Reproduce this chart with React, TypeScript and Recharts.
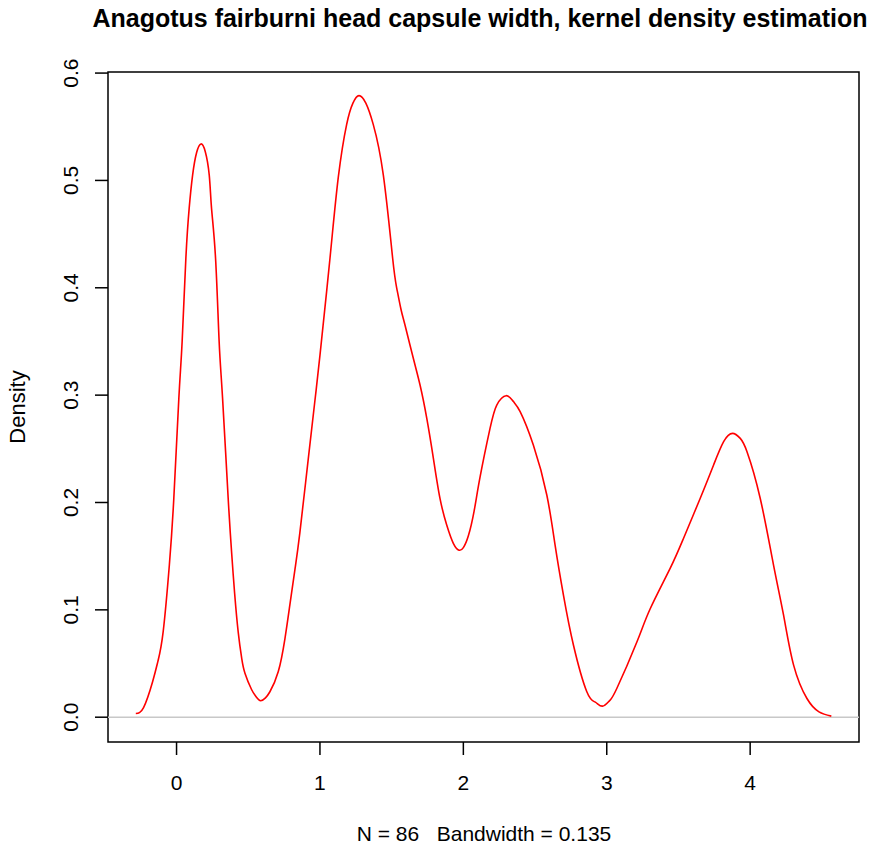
import React from "react";
import { LineChart, Line, XAxis, YAxis, ReferenceLine, ReferenceArea } from "recharts";

const titleText = "Anagotus fairburni head capsule width, kernel density estimation";
const yLabelText = "Density";
const xLabelText = "N = 86   Bandwidth = 0.135";

const xTicks = [0, 1, 2, 3, 4];
const yTicks = [0, 0.1, 0.2, 0.3, 0.4, 0.5, 0.6];
const xDomain = [-0.478, 4.759];
const yDomain = [-0.0231, 0.601];

const densityX = [
  -0.284, -0.23, -0.167, -0.13, -0.093, -0.05, -0.019, 0.016, 0.039, 0.065, 0.088, 0.112, 0.14, 0.17, 0.2,
  0.228, 0.244, 0.272, 0.297, 0.321, 0.36, 0.385, 0.405, 0.43, 0.455, 0.477, 0.523, 0.555, 0.586, 0.62,
  0.651, 0.709, 0.756, 0.79, 0.826, 0.86, 0.918, 0.965, 1.0, 1.07, 1.128, 1.186, 1.23, 1.272, 1.32,
  1.372, 1.442, 1.507, 1.535, 1.565, 1.593, 1.651, 1.698, 1.745, 1.791, 1.837, 1.884, 1.93, 1.97, 2.0,
  2.035, 2.075, 2.117, 2.186, 2.233, 2.298, 2.349, 2.396, 2.488, 2.582, 2.64, 2.698, 2.768, 2.861, 2.92,
  2.97, 3.02, 3.07, 3.21, 3.303, 3.442, 3.535, 3.652, 3.745, 3.815, 3.877, 3.931, 3.978, 4.07, 4.163,
  4.233, 4.303, 4.396, 4.48, 4.566,
];
const densityY = [
  0.0034, 0.009, 0.033, 0.052, 0.08, 0.142, 0.204, 0.297, 0.35, 0.4275, 0.474, 0.505, 0.526, 0.534, 0.527,
  0.505, 0.474, 0.4275, 0.35, 0.297, 0.204, 0.1515, 0.1155, 0.0793, 0.0543, 0.041, 0.0258, 0.019, 0.0153, 0.018,
  0.0237, 0.0423, 0.0733, 0.1044, 0.138, 0.172, 0.24, 0.295, 0.337, 0.4275, 0.503, 0.552, 0.572, 0.579, 0.572,
  0.552, 0.505, 0.4275, 0.4, 0.38, 0.3653, 0.3343, 0.3094, 0.2784, 0.2411, 0.2038, 0.179, 0.162, 0.1556, 0.158,
  0.169, 0.192, 0.224, 0.269, 0.2908, 0.2995, 0.294, 0.2846, 0.2535, 0.207, 0.16, 0.1137, 0.067, 0.0237, 0.014,
  0.0103, 0.0155, 0.0267, 0.07, 0.101, 0.1386, 0.1665, 0.204, 0.235, 0.2567, 0.2644, 0.2597, 0.2473, 0.204, 0.1417,
  0.095, 0.0485, 0.0174, 0.005, 0.001,
];

const data = densityX.map((x, i) => ({ x, y: densityY[i] }));

const FONT = '"Liberation Sans", Arial, Helvetica, sans-serif';

const XTick = (props: any) => {
  const { x, y, payload } = props;
  return (
    <text x={x} y={y + 33} textAnchor="middle" fontSize={21} fontFamily={FONT} fill="#000">
      {payload.value}
    </text>
  );
};

const YTick = (props: any) => {
  const { x, y, payload } = props;
  const bx = x - 14.5;
  return (
    <text
      x={bx}
      y={y}
      textAnchor="middle"
      fontSize={21}
      fontFamily={FONT}
      fill="#000"
      transform={`rotate(-90, ${bx}, ${y})`}
    >
      {Number(payload.value).toFixed(1)}
    </text>
  );
};

export default function App() {
  return (
    <div style={{ position: "absolute", left: 0, top: 0, width: 877, height: 845, background: "#fff", overflow: "hidden" }}>
      <LineChart
        width={877}
        height={845}
        data={data}
        margin={{ top: 72, right: 18, bottom: 53, left: 48 }}
      >
        <XAxis
          dataKey="x"
          type="number"
          domain={xDomain}
          allowDataOverflow
          ticks={xTicks}
          axisLine={false}
          tickLine={{ stroke: "#000", strokeWidth: 1.5 }}
          tickSize={13}
          tickMargin={2}
          height={50}
          tick={<XTick />}
          interval={0}
        />
        <YAxis
          type="number"
          domain={yDomain}
          allowDataOverflow
          ticks={yTicks}
          axisLine={false}
          tickLine={{ stroke: "#000", strokeWidth: 1.5 }}
          tickSize={13}
          tickMargin={2}
          width={60}
          tick={<YTick />}
          interval={0}
        />
        <ReferenceLine y={0} stroke="#c8c8c8" strokeWidth={1.5} ifOverflow="visible" />
        <Line
          type="natural"
          dataKey="y"
          stroke="#ff0000"
          strokeWidth={1.6}
          dot={false}
          isAnimationActive={false}
        />
        <ReferenceArea
          x1={xDomain[0]}
          x2={xDomain[1]}
          y1={yDomain[0]}
          y2={yDomain[1]}
          fill="none"
          stroke="#000"
          strokeWidth={1.5}
          ifOverflow="visible"
        />
      </LineChart>
      <svg
        width={877}
        height={845}
        style={{ position: "absolute", left: 0, top: 0, pointerEvents: "none" }}
      >
        <text x={480} y={27} textAnchor="middle" fontSize={25} fontWeight="bold" fontFamily={FONT} fill="#000">
          {titleText}
        </text>
        <text
          transform="translate(25,407) rotate(-90)"
          textAnchor="middle"
          fontSize={22}
          fontFamily={FONT}
          fill="#000"
        >
          {yLabelText}
        </text>
        <text x={484} y={841} textAnchor="middle" fontSize={21} fontFamily={FONT} fill="#000" style={{ whiteSpace: "pre" }}>
          {xLabelText}
        </text>
      </svg>
    </div>
  );
}
